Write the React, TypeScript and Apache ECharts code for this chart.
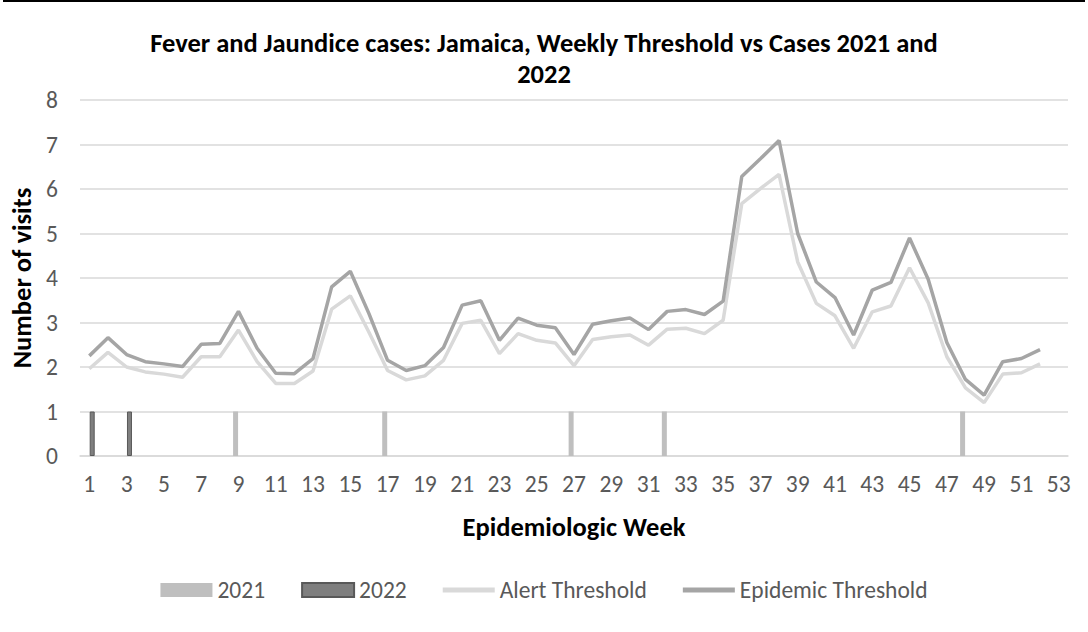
import React, { useEffect, useRef } from "react";
import * as echarts from "echarts";

const weeks: string[] = Array.from({ length: 53 }, (_, i) => String(i + 1));

const cases2021: (number | null)[] = [
  null, null, null, null, null, null, null, null, 1, null,
  null, null, null, null, null, null, 1, null, null, null,
  null, null, null, null, null, null, 1, null, null, null,
  null, 1, null, null, null, null, null, null, null, null,
  null, null, null, null, null, null, null, 1, null, null,
  null, null, null,
];

const cases2022: (number | null)[] = [
  1, null, 1, null, null, null, null, null, null, null,
  null, null, null, null, null, null, null, null, null, null,
  null, null, null, null, null, null, null, null, null, null,
  null, null, null, null, null, null, null, null, null, null,
  null, null, null, null, null, null, null, null, null, null,
  null, null, null,
];

const alertThreshold: number[] = [
  1.96, 2.33, 2.0, 1.89, 1.84, 1.77, 2.23, 2.23, 2.83, 2.12,
  1.63, 1.63, 1.91, 3.3, 3.6, 2.78, 1.92, 1.71, 1.8, 2.15,
  2.98, 3.05, 2.3, 2.75, 2.6, 2.54, 2.03, 2.62, 2.68, 2.72,
  2.49, 2.85, 2.87, 2.75, 3.05, 5.67, 6.01, 6.33, 4.36, 3.43,
  3.15, 2.42, 3.24, 3.37, 4.23, 3.44, 2.23, 1.53, 1.2, 1.84,
  1.87, 2.07,
];

const epidemicThreshold: number[] = [
  2.25, 2.66, 2.28, 2.12, 2.07, 2.01, 2.51, 2.53, 3.25, 2.42,
  1.86, 1.85, 2.19, 3.8, 4.15, 3.2, 2.15, 1.92, 2.03, 2.44,
  3.39, 3.49, 2.6, 3.1, 2.94, 2.88, 2.28, 2.96, 3.04, 3.1,
  2.84, 3.25, 3.29, 3.18, 3.48, 6.28, 6.68, 7.09, 5.0, 3.91,
  3.56, 2.72, 3.73, 3.9, 4.9, 3.97, 2.55, 1.72, 1.37, 2.12,
  2.19, 2.39,
];

const FONT = "Carlito, Calibri, Lato, sans-serif";
const LINE_ICON = "path://M0,0 L52,0 L52,5 L0,5 Z";

export default function App() {
  const ref = useRef<HTMLDivElement>(null);
  useEffect(() => {
    if (!ref.current) return;
    const chart = echarts.init(ref.current, null, { renderer: "svg" });
    chart.setOption({
      animation: false,
      backgroundColor: "#ffffff",
      textStyle: { fontFamily: FONT },
      title: {
        text: "Fever and Jaundice cases: Jamaica, Weekly Threshold vs Cases 2021 and\n2022",
        left: "center",
        top: 22,
        textStyle: {
          fontFamily: FONT,
          fontSize: 26.5,
          fontWeight: "bold",
          color: "#000000",
          lineHeight: 31,
        },
      },
      graphic: [
        {
          type: "rect",
          shape: { x: 3, y: 0, width: 1082, height: 2 },
          style: { fill: "#000000" },
        },
      ],
      legend: {
        bottom: 25,
        left: "center",
        itemGap: 36,
        itemWidth: 52,
        itemHeight: 14,
        textStyle: { fontFamily: FONT, fontSize: 23.5, color: "#595959" },
        data: [
          { name: "2021", icon: "rect" },
          { name: "2022", icon: "rect" },
          { name: "Alert Threshold", icon: LINE_ICON },
          { name: "Epidemic Threshold", icon: LINE_ICON },
        ],
      },
      grid: { left: 80, right: 20, top: 100, bottom: 176, containLabel: false },
      xAxis: {
        type: "category",
        data: weeks,
        boundaryGap: true,
        axisLine: { show: true, lineStyle: { color: "#d9d9d9", width: 1.5 } },
        axisTick: { show: false },
        axisLabel: {
          interval: 1,
          margin: 16,
          fontFamily: FONT,
          fontSize: 23.5,
          color: "#595959",
        },
        name: "Epidemiologic Week",
        nameLocation: "middle",
        nameGap: 57,
        nameTextStyle: { fontFamily: FONT, fontSize: 26.5, fontWeight: "bold", color: "#000000" },
      },
      yAxis: {
        type: "value",
        min: 0,
        max: 8,
        interval: 1,
        axisLine: { show: false },
        axisTick: { show: false },
        splitLine: { lineStyle: { color: "#d9d9d9", width: 1.5 } },
        axisLabel: { margin: 22, fontFamily: FONT, fontSize: 23.5, color: "#595959" },
        name: "Number of visits",
        nameLocation: "middle",
        nameGap: 45,
        nameRotate: 90,
        nameTextStyle: { fontFamily: FONT, fontSize: 26.5, fontWeight: "bold", color: "#000000" },
      },
      series: [
        {
          name: "2021",
          type: "bar",
          data: cases2021,
          barWidth: 5,
          barGap: "15%",
          itemStyle: { color: "#bfbfbf" },
        },
        {
          name: "2022",
          type: "bar",
          data: cases2022,
          barWidth: 5,
          barGap: "15%",
          itemStyle: { color: "#7f7f7f", borderColor: "#595959", borderWidth: 1 },
        },
        {
          name: "Alert Threshold",
          type: "line",
          data: alertThreshold,
          symbol: "none",
          showSymbol: false,
          lineStyle: { color: "#d9d9d9", width: 3.5 },
          itemStyle: { color: "#d9d9d9" },
        },
        {
          name: "Epidemic Threshold",
          type: "line",
          data: epidemicThreshold,
          symbol: "none",
          showSymbol: false,
          lineStyle: { color: "#a5a5a5", width: 3.5 },
          itemStyle: { color: "#a5a5a5" },
        },
      ],
    });
    return () => chart.dispose();
  }, []);
  return (
    <div
      ref={ref}
      style={{ position: "absolute", left: 0, top: 0, width: 1088, height: 632 }}
    />
  );
}
